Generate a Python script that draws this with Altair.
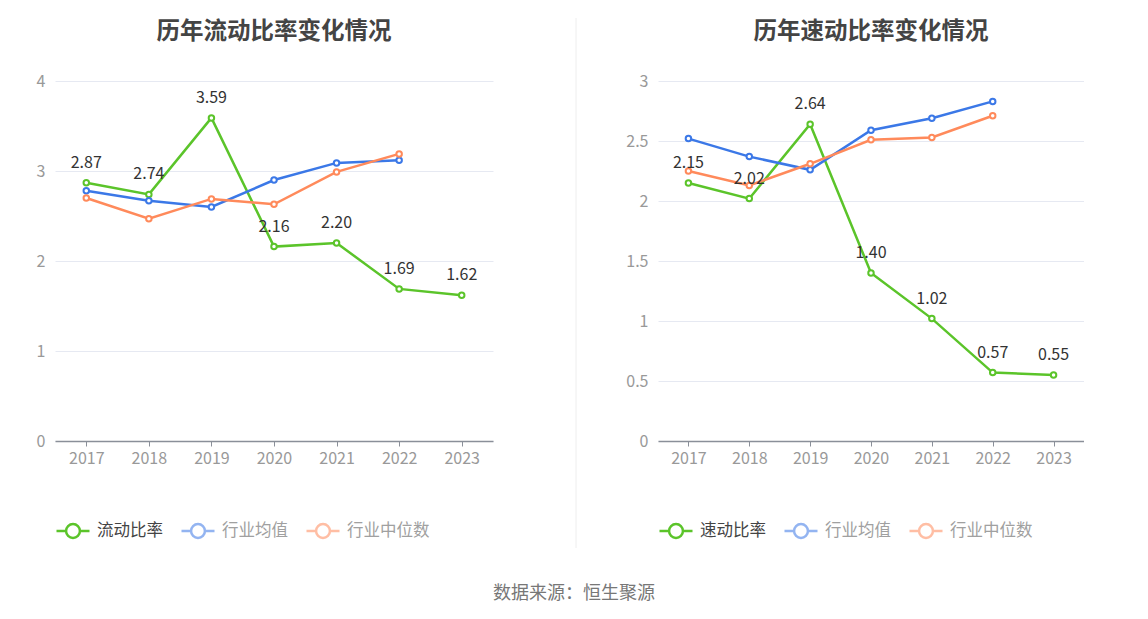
import altair as alt
import pandas as pd

years = ["2017", "2018", "2019", "2020", "2021", "2022", "2023"]

current_names = ["流动比率", "行业均值", "行业中位数"]
current_ratio = [2.87, 2.74, 3.59, 2.16, 2.20, 1.69, 1.62]
current_avg = [2.78, 2.67, 2.60, 2.90, 3.09, 3.12, None]
current_med = [2.70, 2.47, 2.69, 2.63, 2.99, 3.19, None]

quick_names = ["速动比率", "行业均值", "行业中位数"]
quick_ratio = [2.15, 2.02, 2.64, 1.40, 1.02, 0.57, 0.55]
quick_avg = [2.52, 2.37, 2.26, 2.59, 2.69, 2.83, None]
quick_med = [2.25, 2.13, 2.31, 2.51, 2.53, 2.71, None]

colors = ["#5bc42a", "#3b78e7", "#ff8a5b"]
FONT = "Noto Sans CJK SC"
SYMBOL = "M-1,0L-0.42,0M0.42,0L1,0M0.42,0A0.42,0.42,0,1,1,-0.42,0A0.42,0.42,0,1,1,0.42,0"


def long_df(names, series):
    rows = []
    for name, vals in zip(names, series):
        for y, v in zip(years, vals):
            if v is not None:
                rows.append({"year": y, "series": name, "value": v})
    return pd.DataFrame(rows)


def panel(names, series, title, ymax, ticks, width):
    df = long_df(names, series)
    main = df[df["series"] == names[0]]
    x = alt.X("year:N", sort=years, title=None,
              scale=alt.Scale(type="point", padding=0.5),
              axis=alt.Axis(labelAngle=0, labelColor="#999999", labelFontSize=16,
                            labelFont=FONT, domainColor="#8a8f99", tickColor="#8a8f99",
                            tickSize=5, labelPadding=4, grid=False, domainWidth=1.5))
    y = alt.Y("value:Q", title=None,
              scale=alt.Scale(domain=[0, ymax], nice=False, zero=True),
              axis=alt.Axis(values=ticks, format="~g", labelColor="#999999",
                            labelFontSize=16, labelFont=FONT, domain=False, ticks=False,
                            gridColor="#e6e9f2", gridWidth=1, labelPadding=10,
                            minExtent=47))
    main_name = names[0]
    color = alt.Color("series:N",
                      scale=alt.Scale(domain=names, range=colors),
                      legend=alt.Legend(orient="bottom", direction="horizontal", title=None,
                                        symbolType=SYMBOL, symbolSize=1089,
                                        symbolStrokeWidth=2.5, symbolFillColor="white",
                                        labelFontSize=16.5, labelFont=FONT,
                                        labelColor={"expr": f"datum.label == '{main_name}' ? '#444444' : '#a0a0a0'"},
                                        symbolOpacity={"expr": f"datum.value == '{main_name}' ? 1 : 0.55"},
                                        labelOffset=6, columnPadding=13, offset=47))
    base = alt.Chart(df).encode(x=x, y=y, color=color)
    lines = base.mark_line(strokeWidth=2.5)
    points = base.mark_point(shape="circle", filled=False, fill="white", fillOpacity=1,
                             size=30, strokeWidth=2, opacity=1)
    labels = alt.Chart(main).mark_text(dy=-20, fontSize=16, font=FONT, color="#333333").encode(
        x=x, y=y, text=alt.Text("value:Q", format=".2f"))
    return alt.layer(lines, points, labels).properties(
        width=width, height=360,
        title=alt.TitleParams(title, fontSize=23.5, fontWeight="bold", color="#444444",
                              font=FONT, anchor="middle", frame="group", offset=30))


left = panel(current_names, [current_ratio, current_avg, current_med],
             "历年流动比率变化情况", 4, [0, 1, 2, 3, 4], 438)
right = panel(quick_names, [quick_ratio, quick_avg, quick_med],
              "历年速动比率变化情况", 3, [0, 0.5, 1, 1.5, 2, 2.5, 3], 426)

divider = alt.Chart(pd.DataFrame({"d": [0]})).mark_rule(color="#eeeeee", strokeWidth=1).encode(
    x=alt.value(83), y=alt.value(-63), y2=alt.value(467)).properties(width=118, height=360)

chart = alt.hconcat(left, divider, right, spacing=0).resolve_scale(color="independent").resolve_legend(
    color="independent").properties(
    padding={"left": 0, "top": 9, "right": 0, "bottom": 0},
    background="white",
    title=alt.TitleParams("数据来源：恒生聚源", orient="bottom", anchor="middle", fontSize=18,
                          fontWeight="normal", color="#777777", font=FONT, offset=36, dx=28)
).configure_view(strokeWidth=0, stroke=None)

chart.save("out.html", embed_options={"renderer": "svg", "actions": False})
